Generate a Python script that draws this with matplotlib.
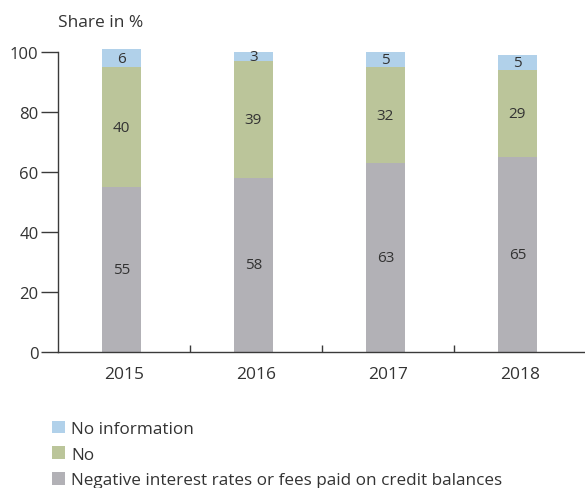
import matplotlib
matplotlib.use("Agg")
import matplotlib.pyplot as plt
import numpy as np

plt.rcParams['font.family'] = ['Open Sans', 'DejaVu Sans']

years = ['2015', '2016', '2017', '2018']
negative = [55, 58, 63, 65]
no = [40, 39, 32, 29]
no_info = [6, 3, 5, 5]

series = [
    ('Negative interest rates or fees paid on credit balances', negative, '#b2b1b6'),
    ('No', no, '#bbc59a'),
    ('No information', no_info, '#b1d1ea'),
]

text_color = '#333333'
axis_color = '#3a3a3a'

fig = plt.figure(figsize=(5.85, 4.89), dpi=100)
ax = fig.add_axes([58 / 585, 1 - 352.7 / 489, 528 / 585, (352.7 - 53.3) / 489])

x = np.arange(len(years))
bottom = np.zeros(len(years))
handles = []
for name, vals, color in series:
    vals = np.array(vals, dtype=float)
    bars = ax.bar(x - 0.02, vals, width=0.3, bottom=bottom, color=color,
                  label=name, clip_on=False, zorder=2)
    for xi, b, v in zip(x, bottom, vals):
        ax.text(xi - 0.02, b + v / 2, f'{int(v)}', ha='center', va='center',
                fontsize=11, color=text_color, zorder=3)
    handles.append(bars)
    bottom += vals

ax.set_xlim(-0.5, 3.5)
ax.set_ylim(0, 100)

for s in ['top', 'right']:
    ax.spines[s].set_visible(False)
for s in ['left', 'bottom']:
    ax.spines[s].set_color(axis_color)
    ax.spines[s].set_linewidth(1.0)

ax.set_yticks([0, 20, 40, 60, 80, 100])
ax.tick_params(axis='y', length=12, width=1.0, color=axis_color,
               labelsize=12, labelcolor=text_color, pad=2)

# category separators on the x axis, labels centred between them
ax.set_xticks([0.5, 1.5, 2.5])
ax.set_xticklabels([])
ax.tick_params(axis='x', which='major', direction='in', length=5, width=1.0,
               color=axis_color)
ax.set_xticks(x, minor=True)
ax.set_xticklabels(years, minor=True)
ax.tick_params(axis='x', which='minor', length=0, labelsize=12.5,
               labelcolor=text_color, pad=10)

fig.text(58 / 585, 1 - 23 / 489, 'Share in %', fontsize=12.5, color=text_color,
         ha='left', va='center')

leg = fig.legend(handles[::-1], [s[0] for s in series][::-1],
                 loc='upper left', bbox_to_anchor=(45 / 585, 1 - 415 / 489),
                 frameon=False, fontsize=12.3, handlelength=0.75, handleheight=0.75,
                 handletextpad=0.4, labelspacing=0.55, borderaxespad=0,
                 labelcolor=text_color)

fig.savefig('out.png', dpi=100)
